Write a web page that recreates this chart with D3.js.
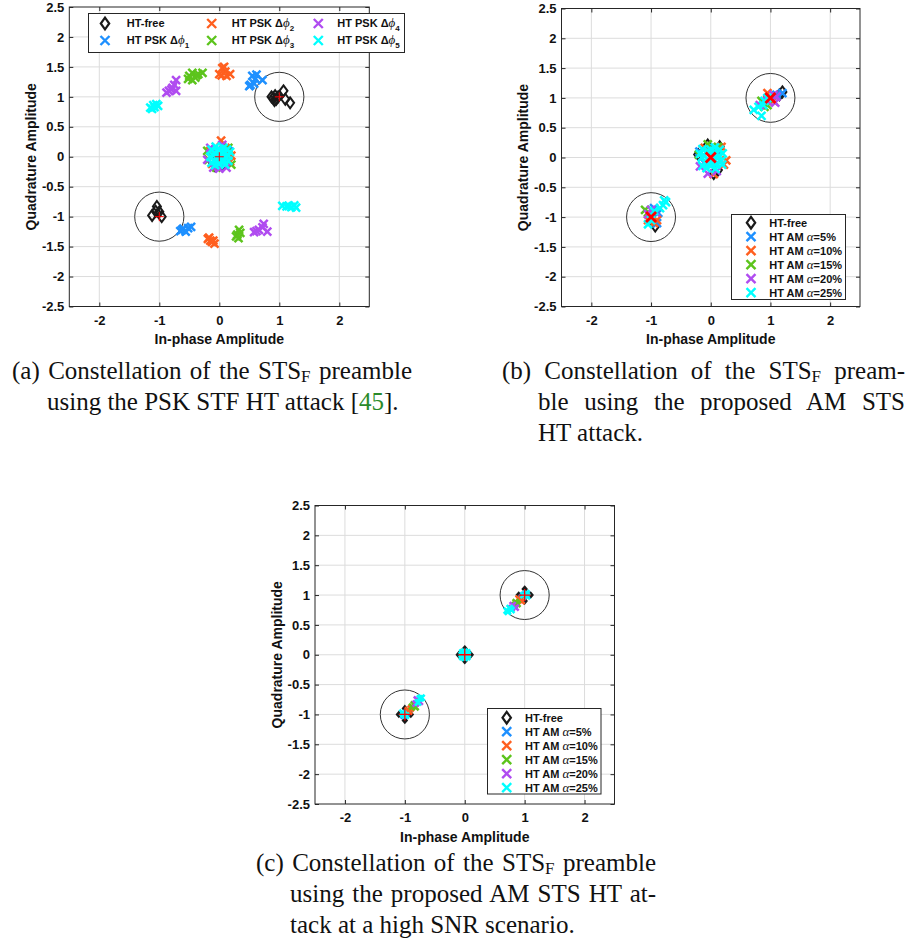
<!DOCTYPE html>
<html><head><meta charset="utf-8">
<script src="https://cdn.jsdelivr.net/npm/d3@7"></script>
<style>body{margin:0;background:#fff}</style>
</head><body>
<svg id="fig" width="917" height="947"></svg>
<script>
// ---------------- DATA ----------------
const xTicks = [-2, -1, 0, 1, 2];
const xTickLabels = ["-2", "-1", "0", "1", "2"];
const yTicks = [-2.5, -2, -1.5, -1, -0.5, 0, 0.5, 1, 1.5, 2, 2.5];
const yTickLabels = ["-2.5", "-2", "-1.5", "-1", "-0.5", "0", "0.5", "1", "1.5", "2", "2.5"];
const axisDomain = [-2.5, 2.5];

const seriesColors = ["#1a1a1a", "#1E90FF", "#FF5F1F", "#5CC41C", "#B04CF0", "#00FFFF"];
const namesA = ["HT-free", "HT PSK Δϕ_1", "HT PSK Δϕ_2", "HT PSK Δϕ_3", "HT PSK Δϕ_4", "HT PSK Δϕ_5"];
const namesB = ["HT-free", "HT AM α=5%", "HT AM α=10%", "HT AM α=15%", "HT AM α=20%", "HT AM α=25%"];

const refPoints = [[1, 1], [-1, -1], [0, 0]];
const circleCenters = [[1, 1], [-1, -1]];
const circleRadius = 0.41;

// (a) PSK STF HT attack
const aHTfree = [[0.87,1.0],[0.9,0.98],[0.93,1.02],[0.95,0.96],[0.98,1.0],[0.92,0.94],[1.07,1.1],[1.1,0.96],[1.18,0.9],
  [-1.04,-0.83],[-1.06,-0.91],[-1.12,-0.98],[-0.96,-1.0],[-1.0,-0.92],[-0.07,-0.15],[0.05,-0.15],[-0.12,-0.08],[0.0,0.05]];
const aPSK1 = [[0.55,1.35],[0.6,1.3],[0.52,1.2],[0.58,1.22],[0.72,1.28],[0.62,1.37],[0.5,1.18],
  [-0.65,-1.24],[-0.6,-1.2],[-0.52,-1.19],[-0.47,-1.17],[-0.56,-1.25],[-0.62,-1.22],
  [-0.1,0.08],[0.08,0.12],[0.12,-0.05],[-0.05,-0.1],[0.0,0.02],[0.15,0.1]];
const aPSK2 = [[0.05,1.48],[0.1,1.42],[0.04,1.36],[0.12,1.35],[0.18,1.38],[0.08,1.5],[0.0,1.38],
  [-0.17,-1.35],[-0.12,-1.42],[-0.08,-1.45],[-0.15,-1.4],[-0.19,-1.37],[-0.1,-1.4],
  [0.03,0.27],[0.2,0.02],[0.18,-0.08],[-0.12,-0.12],[0.1,0.15],[-0.15,0.1]];
const aPSK3 = [[-0.5,1.35],[-0.45,1.4],[-0.4,1.32],[-0.35,1.38],[-0.28,1.4],[-0.45,1.28],[-0.38,1.36],[-0.52,1.3],
  [0.33,-1.22],[0.3,-1.3],[0.32,-1.36],[0.28,-1.33],[0.35,-1.27],
  [0.2,-0.13],[-0.2,0.1],[-0.05,-0.18],[0.15,0.15],[-0.18,-0.05]];
const aPSK4 = [[-0.88,1.07],[-0.8,1.12],[-0.75,1.2],[-0.72,1.28],[-0.78,1.15],[-0.72,1.1],[-0.84,1.1],
  [0.58,-1.26],[0.66,-1.22],[0.74,-1.12],[0.8,-1.25],[0.72,-1.18],[0.62,-1.24],
  [-0.2,-0.05],[0.0,-0.2],[-0.1,-0.18],[0.12,-0.18],[0.05,0.2],[-0.15,0.15]];
const aPSK5 = [[-1.15,0.82],[-1.1,0.86],[-1.05,0.88],[-1.12,0.8],[-1.08,0.83],[-1.02,0.85],
  [1.05,-0.82],[1.12,-0.83],[1.2,-0.84],[1.28,-0.85],[1.25,-0.81],[1.16,-0.82],
  [0,0],[0.04,0.03],[-0.04,-0.03],[0.08,0.06],[-0.08,0.06],[0.08,-0.07],[-0.08,-0.07],[0.0,0.13],[0.0,-0.12],[0.15,0.02],[-0.15,0.0],
  [0.07,0.15],[-0.07,-0.14],[0.15,-0.07],[-0.13,0.12],[0.13,0.12],[-0.13,-0.1],[0.1,-0.13],[-0.06,0.17],[0.18,0.08],
  [0.04,0.08],[-0.04,0.1],[0.1,0.0],[-0.1,0.02],[0.03,-0.08],[-0.03,-0.1]];

// (b) AM STS HT attack
const bHTfree = [[1.2,1.1],[1.15,1.05],[-0.93,-1.15],[-0.98,-1.08],[-0.21,0.05],[0.05,-0.27],[0.12,-0.21],[-0.05,0.21],[0.15,0.18]];
const bAM5 = [[1.2,1.08],[1.1,1.05],[0.95,0.98],[-0.95,-0.85],[-0.88,-0.93],[-0.9,-1.1],[-1.02,-0.95],
  [0.1,0.05],[-0.1,-0.1],[0.05,0.15],[-0.19,0.1]];
const bAM10 = [[0.95,1.08],[1.05,0.95],[0.88,0.92],[-0.9,-1.05],[-0.95,-1.1],[-1.05,-1.05],
  [0.22,-0.12],[0.26,-0.05],[0.05,-0.28],[0.18,0.18],[-0.1,0.16]];
const bAM15 = [[0.9,0.85],[0.95,0.88],[0.85,0.95],[-1.1,-0.88],[-1.05,-0.92],
  [-0.05,0.22],[0.12,0.18],[-0.2,0.05]];
const bAM20 = [[1.05,1.05],[1.1,1.02],[0.95,0.95],[1.08,0.92],[0.82,0.88],[-1.0,-0.88],[-1.05,-0.95],[-0.92,-0.92],
  [-0.05,-0.27],[-0.18,-0.15],[0.1,-0.23]];
const bAM25 = [[0.72,0.8],[0.85,0.7],[0.9,0.95],[0.8,0.85],[0.95,1.0],[0.88,0.88],
  [-0.75,-0.75],[-0.8,-0.8],[-0.85,-0.85],[-0.78,-0.72],[-0.95,-0.9],[-1.0,-1.05],[-1.05,-1.12],
  [0,0],[0.04,0.04],[-0.04,-0.04],[0.08,0.05],[-0.08,0.08],[0.1,-0.1],[-0.1,-0.08],[0.0,0.13],[0.0,-0.14],[0.15,0.02],[-0.15,0.0],
  [0.07,0.17],[-0.07,-0.18],[0.17,-0.06],[-0.14,0.14],[0.15,0.13],[-0.14,-0.14],[0.08,-0.19],[0.2,0.07],
  [0.05,0.09],[-0.05,0.11],[0.11,0.0],[-0.11,0.03],[0.04,-0.09],[-0.03,-0.11],[-0.18,0.06],[0.19,-0.12]];

// (c) AM STS HT attack, high SNR
const cHTfree = [[1,1.1],[1.1,1.0],[0.9,1.0],[1.0,0.9],[0,0.1],[0,-0.1],[0.1,0],[-0.1,0],[-1,-0.9],[-0.9,-1],[-1.1,-1.0],[-1,-1.1]];
const cAM5 = [[1,1],[0.97,0.97],[1.03,1.02],[0.95,0.95],[-1,-1],[-0.95,-0.95],[-0.97,-0.97],[-1.02,-1.02],[0,0]];
const cAM10 = [[0.92,0.92],[0.95,0.9],[0.9,0.94],[-0.9,-0.9],[-0.93,-0.95],[-0.95,-0.93],[0,0]];
const cAM15 = [[0.85,0.88],[0.88,0.85],[0.83,0.83],[-0.85,-0.83],[-0.88,-0.87],[-0.82,-0.88],[0,0]];
const cAM20 = [[0.8,0.83],[0.78,0.78],[0.85,0.79],[-0.8,-0.75],[-0.75,-0.79],[-0.82,-0.82],[0,0]];
const cAM25 = [[0.72,0.72],[0.75,0.78],[0.78,0.75],[0.7,0.74],[1.03,1.03],[0.98,1.0],[1.04,0.98],
  [-0.72,-0.72],[-0.75,-0.73],[-0.78,-0.8],[-1.02,-1.0],[-0.98,-1.02],[-1.04,-0.97],
  [0,0],[0.04,0.04],[-0.04,-0.04],[0.04,-0.04],[-0.04,0.04],[0.05,0],[-0.05,0],[0,0.05],[0,-0.05]];

const captionA = ["(a) Constellation of the STS_F preamble", "using the PSK STF HT attack [45]."];
const captionB = ["(b) Constellation of the STS_F pream-", "ble using the proposed AM STS", "HT attack."];
const captionC = ["(c) Constellation of the STS_F preamble", "using the proposed AM STS HT at-", "tack at a high SNR scenario."];
const xLabel = "In-phase Amplitude";
const yLabel = "Quadrature Amplitude";

// ---------------- DRAWING ----------------
const svg = d3.select("#fig");
const SANS = "'Liberation Sans', Arial, sans-serif";
const SERIF = "'Liberation Serif', 'Times New Roman', serif";

function xPath(s){ return `M${-s},${-s}L${s},${s}M${-s},${s}L${s},${-s}`; }
function plusPath(s){ return `M${-s},0L${s},0M0,${-s}L0,${s}`; }
function diamondPath(w,h){ return `M0,${-h}L${w},0L0,${h}L${-w},0Z`; }

function richName(textSel, name){
  if (name.includes("ϕ_")) {
    const [pre, rest] = name.split("ϕ_");
    textSel.append("tspan").text(pre);
    textSel.append("tspan").attr("font-family", SERIF).attr("font-style","italic").attr("font-weight","normal").attr("font-size","13px").text("ϕ");
    textSel.append("tspan").attr("font-size","8px").attr("dy", 3.5).text(rest);
  } else if (name.includes("α")) {
    const [pre, rest] = name.split("α");
    textSel.append("tspan").text(pre);
    textSel.append("tspan").attr("font-family", SERIF).attr("font-style","italic").attr("font-weight","normal").attr("font-size","13px").text("α");
    textSel.append("tspan").text(rest);
  } else {
    textSel.text(name);
  }
}

function drawMarker(sel, type, color, m){
  if (type === "diamond") {
    sel.attr("d", diamondPath(m.dw, m.dh)).attr("fill", m.dfill ? color : "none")
      .attr("stroke", color).attr("stroke-width", m.dsw).attr("stroke-linejoin","miter");
  } else {
    sel.attr("d", xPath(m.xs)).attr("fill","none").attr("stroke", color).attr("stroke-width", m.xsw);
  }
}

function panel(cfg){
  const g = svg.append("g");
  const x = d3.scaleLinear().domain(axisDomain).range([cfg.l, cfg.r]);
  const y = d3.scaleLinear().domain(axisDomain).range([cfg.b, cfg.t]);

  g.append("rect").attr("x", cfg.l).attr("y", cfg.t).attr("width", cfg.r-cfg.l).attr("height", cfg.b-cfg.t).attr("fill","#fff");

  g.append("g").selectAll("line").data(xTicks).join("line")
    .attr("x1", d=>x(d)).attr("x2", d=>x(d)).attr("y1", cfg.t).attr("y2", cfg.b)
    .attr("stroke","#dcdcdc").attr("stroke-width",1);
  g.append("g").selectAll("line").data(yTicks.filter(d=>Math.abs(d)<2.5)).join("line")
    .attr("y1", d=>y(d)).attr("y2", d=>y(d)).attr("x1", cfg.l).attr("x2", cfg.r)
    .attr("stroke","#dcdcdc").attr("stroke-width",1);

  const styleAxis = a => {
    a.select(".domain").remove();
    a.selectAll("line").attr("stroke","#262626");
    a.selectAll("text").attr("fill","#111").attr("font-family",SANS).attr("font-weight","bold").attr("font-size","13px");
  };
  g.append("g").attr("transform",`translate(0,${cfg.b})`)
    .call(d3.axisBottom(x).tickValues(xTicks).tickFormat((d,i)=>xTickLabels[i]).tickSizeInner(-4).tickSizeOuter(0).tickPadding(9))
    .call(styleAxis);
  g.append("g").attr("transform",`translate(${cfg.l},0)`)
    .call(d3.axisLeft(y).tickValues(yTicks).tickFormat((d,i)=>yTickLabels[i]).tickSizeInner(-4).tickSizeOuter(0).tickPadding(5))
    .call(styleAxis);
  g.append("g").attr("transform",`translate(0,${cfg.t})`)
    .call(d3.axisTop(x).tickValues(xTicks).tickFormat("").tickSizeInner(-4).tickSizeOuter(0))
    .call(styleAxis);
  g.append("g").attr("transform",`translate(${cfg.r},0)`)
    .call(d3.axisRight(y).tickValues(yTicks).tickFormat("").tickSizeInner(-4).tickSizeOuter(0))
    .call(styleAxis);

  g.append("g").selectAll("ellipse").data(circleCenters).join("ellipse")
    .attr("cx", d=>x(d[0])).attr("cy", d=>y(d[1]))
    .attr("rx", d=>x(d[0]+circleRadius)-x(d[0])).attr("ry", d=>y(d[1])-y(d[1]+circleRadius))
    .attr("fill","none").attr("stroke","#333").attr("stroke-width",1);

  cfg.series.forEach((pts, i) => {
    const type = i === 0 ? "diamond" : "x";
    g.append("g").selectAll("path").data(pts).join("path")
      .attr("transform", d=>`translate(${x(d[0])},${y(d[1])})`)
      .each(function(){ drawMarker(d3.select(this), type, seriesColors[i], cfg.m); });
  });

  g.append("g").selectAll("path").data(refPoints).join("path")
    .attr("transform", d=>`translate(${x(d[0])},${y(d[1])})`)
    .attr("d", cfg.ref.type === "plus" ? plusPath(cfg.ref.s) : xPath(cfg.ref.s))
    .attr("fill","none").attr("stroke","#ff0000").attr("stroke-width", cfg.ref.sw);

  g.append("rect").attr("x", cfg.l).attr("y", cfg.t).attr("width", cfg.r-cfg.l).attr("height", cfg.b-cfg.t)
    .attr("fill","none").attr("stroke","#262626").attr("stroke-width",1);

  g.append("text").attr("x", (cfg.l+cfg.r)/2).attr("y", cfg.xlab)
    .attr("text-anchor","middle").attr("font-family",SANS).attr("font-weight","bold").attr("font-size","14px").attr("fill","#111").text(xLabel);
  g.append("text").attr("transform",`translate(${cfg.ylab},${(cfg.t+cfg.b)/2}) rotate(-90)`)
    .attr("text-anchor","middle").attr("dominant-baseline","central").attr("font-family",SANS).attr("font-weight","bold").attr("font-size","14px").attr("fill","#111").text(yLabel);

  const L = cfg.legend;
  const lg = g.append("g");
  lg.append("rect").attr("x", L.x0).attr("y", L.y0).attr("width", L.x1-L.x0).attr("height", L.y1-L.y0)
    .attr("fill","#fff").attr("stroke","#262626").attr("stroke-width",1);
  L.names.forEach((name, i) => {
    const p = L.pos[i];
    const mk = lg.append("path").attr("transform",`translate(${p[0]},${p[1]})`);
    drawMarker(mk, i===0 ? "diamond" : "x", seriesColors[i], {dw:4.2, dh:5.8, dsw:2.2, xs:4.5, xsw:2.4, dfill:false});
    const t = lg.append("text").attr("x", p[2]).attr("y", p[1]).attr("dy","0.35em")
      .attr("font-family",SANS).attr("font-weight","bold").attr("font-size","11px").attr("fill","#111");
    richName(t, name);
  });
}

const mainMarkers = {dw:4, dh:5.5, dsw:2, xs:4, xsw:2.5, dfill:false};

panel({l:69.3, r:369.3, t:7, b:306.5, xlab:344, ylab:31,
  series:[aHTfree, aPSK1, aPSK2, aPSK3, aPSK4, aPSK5], m: mainMarkers,
  ref:{type:"plus", s:4.5, sw:1},
  legend:{x0:88.5, y0:13.5, x1:404.5, y1:52.5, names:namesA,
    pos:[[105,23.5,126.7],[105,40.5,126.7],[211.7,23.5,231.7],[211.7,40.5,231.7],[318.3,23.5,337.3],[318.3,40.5,337.3]]}});

panel({l:561.5, r:860, t:8.5, b:306.5, xlab:344, ylab:523,
  series:[bHTfree, bAM5, bAM10, bAM15, bAM20, bAM25], m: mainMarkers,
  ref:{type:"x", s:5, sw:2.8},
  legend:{x0:731.5, y0:214.5, x1:845.5, y1:299.5, names:namesB,
    pos:[0,1,2,3,4,5].map(i=>[751, 222.7+14*i, 769.3])}});

panel({l:315, r:614.5, t:505.5, b:804, xlab:842, ylab:277,
  series:[cHTfree, cAM5, cAM10, cAM15, cAM20, cAM25], m:{dw:2.4, dh:2.8, dsw:1.4, xs:3, xsw:2.6, dfill:true},
  ref:{type:"plus", s:6, sw:1.3},
  legend:{x0:487.5, y0:708.5, x1:601, y1:794, names:namesB,
    pos:[0,1,2,3,4,5].map(i=>[506.7, 717.7+14*i, 525])}});

function caption(lines, x0, indent, y0, lh, right){
  lines.forEach((ln, i) => {
    const t = svg.append("text").attr("x", i===0 ? x0 : x0+indent).attr("y", y0 + lh*i)
      .attr("font-family", SERIF).attr("font-size","25px").attr("fill","#111");
    const parts = ln.split("_F");
    if (parts.length > 1) {
      t.append("tspan").text(parts[0]);
      t.append("tspan").attr("font-size","17px").attr("dy",3).text("F");
      t.append("tspan").attr("dy",-3).text(parts[1]);
    } else if (ln.includes("[45]")) {
      const [pre, post] = ln.split("45");
      t.append("tspan").text(pre);
      t.append("tspan").attr("fill","#2a8a2a").text("45");
      t.append("tspan").text(post);
    } else {
      t.text(ln);
    }
    if (i < lines.length-1) {
      const nat = t.node().getComputedTextLength();
      const target = right - (i===0 ? x0 : x0+indent);
      const n = (ln.match(/ /g)||[]).length;
      if (n>0) t.attr("word-spacing", (target-nat)/n);
    }
  });
}
caption(captionA, 12, 35, 379, 31, 412);
caption(captionB, 502, 36, 379, 31, 905);
caption(captionC, 256, 34, 871, 31, 656);
</script></body></html>
